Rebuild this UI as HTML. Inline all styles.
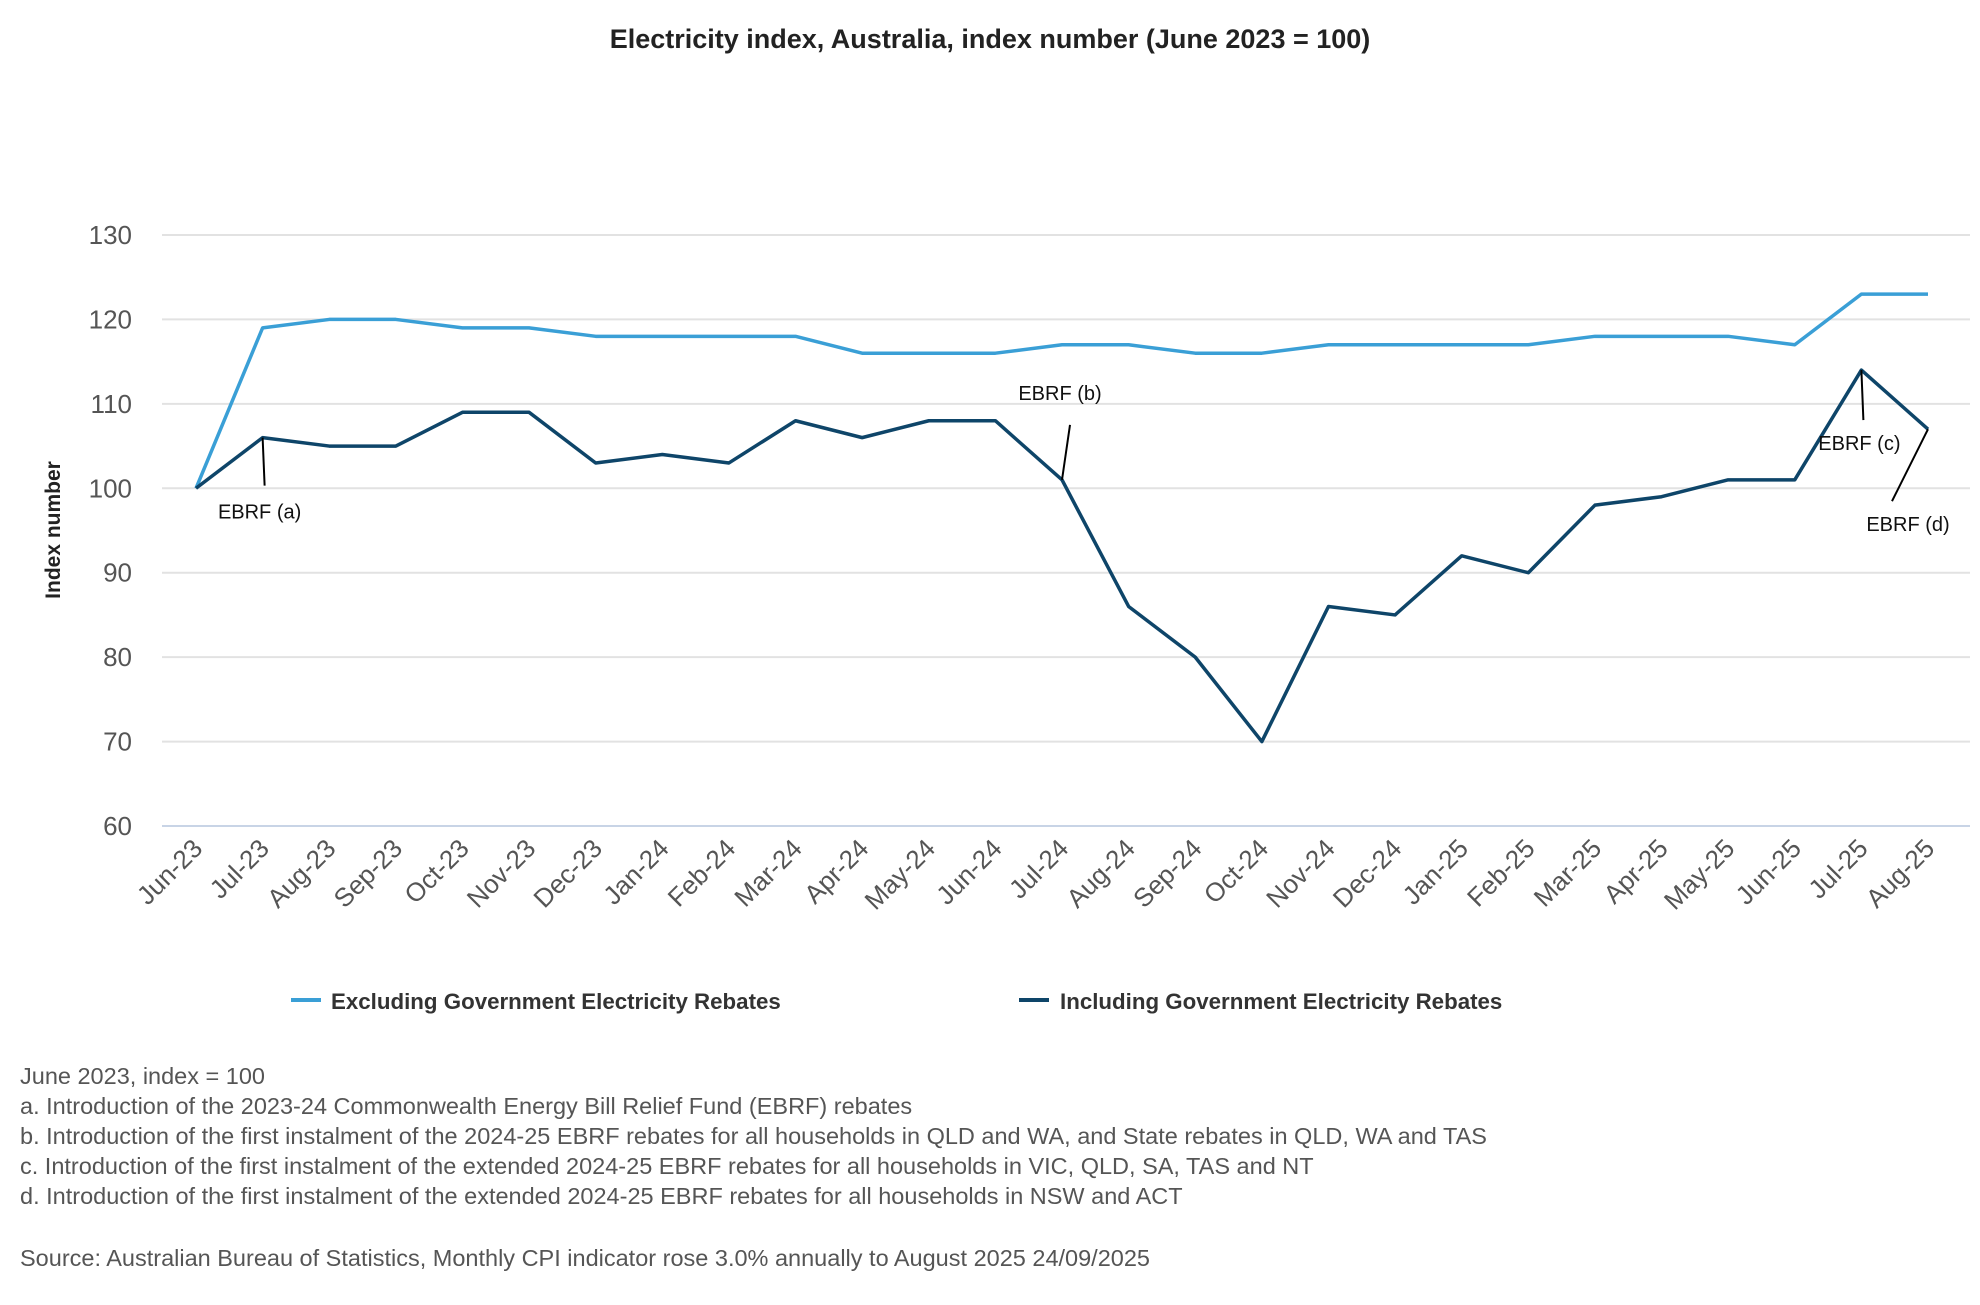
<!DOCTYPE html>
<html><head><meta charset="utf-8"><style>
html,body{margin:0;padding:0;background:#fff;}
body{width:1980px;height:1300px;overflow:hidden;font-family:"Liberation Sans","DejaVu Sans",sans-serif;}
</style></head><body>
<svg id="chart" width="1980" height="1300" xmlns="http://www.w3.org/2000/svg" font-family="Liberation Sans, DejaVu Sans, sans-serif">
<text x="990" y="48" text-anchor="middle" font-size="27" font-weight="bold" fill="#222">Electricity index, Australia, index number (June 2023 = 100)</text>
<text transform="translate(60,530) rotate(-90)" text-anchor="middle" font-size="21" font-weight="bold" fill="#222">Index number</text>
<g id="grid"></g><g id="series"></g><g id="annots"></g>
<g>
<line x1="291" y1="1000" x2="321" y2="1000" stroke="#3a9fd6" stroke-width="4"/>
<text x="331" y="1009" font-size="22.3" font-weight="bold" fill="#333">Excluding Government Electricity Rebates</text>
<line x1="1019" y1="1000" x2="1049" y2="1000" stroke="#0e4569" stroke-width="4"/>
<text x="1060" y="1009" font-size="22.3" font-weight="bold" fill="#333">Including Government Electricity Rebates</text>
</g>
<g font-size="23.5" fill="#555">
<text x="20" y="1084">June 2023, index = 100</text>
<text x="20" y="1114">a. Introduction of the 2023-24 Commonwealth Energy Bill Relief Fund (EBRF) rebates</text>
<text x="20" y="1144">b. Introduction of the first instalment of the 2024-25 EBRF rebates for all households in QLD and WA, and State rebates in QLD, WA and TAS</text>
<text x="20" y="1174">c. Introduction of the first instalment of the extended 2024-25 EBRF rebates for all households in VIC, QLD, SA, TAS and NT</text>
<text x="20" y="1204">d. Introduction of the first instalment of the extended 2024-25 EBRF rebates for all households in NSW and ACT</text>
<text x="20" y="1266">Source: Australian Bureau of Statistics, Monthly CPI indicator rose 3.0% annually to August 2025 24/09/2025</text>
</g>
</svg>
<script>
const categories = ["Jun-23","Jul-23","Aug-23","Sep-23","Oct-23","Nov-23","Dec-23","Jan-24","Feb-24","Mar-24","Apr-24","May-24","Jun-24","Jul-24","Aug-24","Sep-24","Oct-24","Nov-24","Dec-24","Jan-25","Feb-25","Mar-25","Apr-25","May-25","Jun-25","Jul-25","Aug-25"];
const excludingRebates = [100,119,120,120,119,119,118,118,118,118,116,116,116,117,117,116,116,117,117,117,117,118,118,118,117,123,123];
const includingRebates = [100,106,105,105,109,109,103,104,103,108,106,108,108,101,86,80,70,86,85,92,90,98,99,101,101,114,107];
const yTicks = [60,70,80,90,100,110,120,130];
const NS="http://www.w3.org/2000/svg";
const X0=196, X1=1928, YB=826, YT=235, YMIN=60, YMAX=130;
function xs(i){return X0+(X1-X0)*i/(categories.length-1);}
function ys(v){return YB-(v-YMIN)/(YMAX-YMIN)*(YB-YT);}
function mk(tag,attrs,parent){const e=document.createElementNS(NS,tag);for(const k in attrs)e.setAttribute(k,attrs[k]);parent.appendChild(e);return e;}
const grid=document.getElementById('grid');
yTicks.forEach(t=>{
  const l=mk('line',{x1:162,x2:1970,y1:ys(t),y2:ys(t),stroke:t===YMIN?'#c8d4e6':'#e2e2e2','stroke-width':2},grid);
  
  
  const tx=mk('text',{x:132,y:ys(t)+9,'text-anchor':'end','font-size':26,fill:'#555'},grid);
  tx.textContent=t;
  
  
});
categories.forEach((c,i)=>{
  const tx=mk('text',{transform:`translate(${xs(i)+8},${850}) rotate(-45)`,'text-anchor':'end','font-size':26,fill:'#555'},grid);
  tx.textContent=c;
  
  
});
const ser=document.getElementById('series');
function line(data,color,name){
  const p=mk('polyline',{points:data.map((v,i)=>xs(i)+','+ys(v)).join(' '),fill:'none',stroke:color,'stroke-width':3.5,'stroke-linejoin':'round'},ser);
  
  
}
line(excludingRebates,'#3a9fd6','line-excluding-rebates');
line(includingRebates,'#0e4569','line-including-rebates');
const an=document.getElementById('annots');
function annot(i,dx1,dy1,tx,ty,label,name){
  const x=xs(i),y=ys(includingRebates[i]);
  mk('line',{x1:x,y1:y,x2:x+dx1,y2:y+dy1,stroke:'#000','stroke-width':2},an);
  const t=mk('text',{x:x+tx,y:y+ty,'text-anchor':'middle','font-size':20,fill:'#111'},an);
  t.textContent=label;
  
  
}
annot(1,2,48,-3,81,'EBRF (a)','annotation-ebrf-a');
annot(13,8,-55,-2,-80,'EBRF (b)','annotation-ebrf-b');
annot(25,2,50,-2,80,'EBRF (c)','annotation-ebrf-c');
annot(26,-36,72,-20,102,'EBRF (d)','annotation-ebrf-d');
</script>
</body></html>
